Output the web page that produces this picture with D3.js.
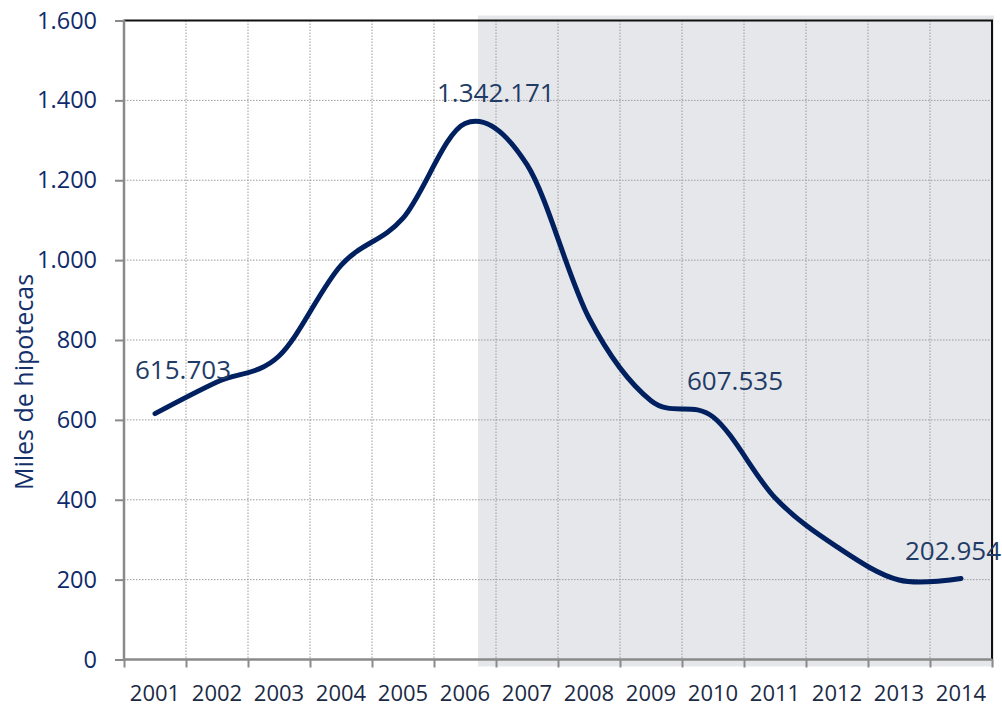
<!DOCTYPE html>
<html>
<head>
<meta charset="utf-8">
<script src="https://cdn.jsdelivr.net/npm/d3@7"></script>
<style>
  body { margin: 0; background: #fff; }
  svg text { font-family: "Open Sans", "Noto Sans", sans-serif; }
  .grid line { stroke: #9a9a9a; stroke-width: 1; stroke-dasharray: 1.5 1.5; }
  .yAxis .domain, .xTicks .domain { display: none; }
  .yAxis .tick line, .xTicks .tick line { stroke: #8a8a8a; stroke-width: 2; }
  .yAxis text { fill: #0f2a6b; font-size: 23.5px; }
  .xAxis text { fill: #1b2a45; font-size: 22px; }
  .dLabel { fill: #1f3b66; font-size: 26px; }
</style>
</head>
<body>
<svg id="chart" width="1002" height="705"></svg>
<script>
// datos (miles de hipotecas)
var years = [2001, 2002, 2003, 2004, 2005, 2006, 2007, 2008, 2009, 2010, 2011, 2012, 2013, 2014];
var hipotecas = [615.703, 695, 760, 987, 1105, 1342.171, 1239, 855, 648, 607.535, 405, 282, 199, 202.954];
var yTicks = [0, 200, 400, 600, 800, 1000, 1200, 1400, 1600];
var labelYears = [2001, 2006, 2010, 2014];
var shadeFrom = 2006.21; // inicio de la zona sombreada (en años)

(function () {
  'use strict'
  // desplazamiento de las etiquetas respecto al punto
  var labelOffset = { 2001: [-20, -35], 2006: [-28, -21], 2010: [-26, -27], 2014: [-56, -18] };

  var es = d3.formatLocale({ decimal: ",", thousands: ".", grouping: [3], currency: ["", ""] });
  var fmt = es.format(",");

  var pLeft = 124, pRight = 992, pTop = 20.5, pBottom = 659.5;
  var svg = d3.select("#chart");

  var x = d3.scaleBand().domain(years).range([pLeft, pRight]).padding(0);
  var xLin = d3.scaleLinear().domain([years[0] - 0.5, years[years.length - 1] + 0.5]).range([pLeft, pRight]);
  var y = d3.scaleLinear().domain([0, 1600]).range([pBottom, pTop]);

  // zona sombreada
  svg.append("rect")
    .attr("x", xLin(shadeFrom))
    .attr("y", y(1600) - 5)
    .attr("width", xLin(years[years.length - 1] + 0.5) - xLin(shadeFrom) + 2)
    .attr("height", y(0) - y(1600) + 12)
    .attr("fill", "#e6e7eb");

  // rejilla
  var bounds = d3.range(years.length + 1).map(function (i) { return years[0] - 0.5 + i; });
  var g = svg.append("g").attr("class", "grid");
  g.selectAll(".v").data(bounds.slice(1, -1)).enter().append("line")
    .attr("x1", function (d) { return xLin(d); }).attr("x2", function (d) { return xLin(d); })
    .attr("y1", pTop).attr("y2", pBottom);
  g.selectAll(".h").data(yTicks.slice(1, -1)).enter().append("line")
    .attr("x1", pLeft).attr("x2", pRight)
    .attr("y1", function (d) { return y(d); }).attr("y2", function (d) { return y(d); });

  // bordes superior y derecho
  svg.append("path")
    .attr("d", "M" + pLeft + "," + pTop + "H" + pRight + "V" + pBottom)
    .attr("fill", "none").attr("stroke", "#111").attr("stroke-width", 2);

  // eje Y
  svg.append("g")
    .attr("class", "yAxis")
    .attr("transform", "translate(" + pLeft + ",0)")
    .call(d3.axisLeft(y).tickValues(yTicks).tickSize(9).tickPadding(18).tickFormat(fmt));

  // marcas del eje X
  svg.append("g")
    .attr("class", "xTicks")
    .attr("transform", "translate(0," + pBottom + ")")
    .call(d3.axisBottom(xLin).tickValues(bounds).tickSize(8).tickFormat(""));

  // etiquetas de años
  var xa = svg.append("g")
    .attr("class", "xAxis")
    .attr("transform", "translate(0," + pBottom + ")")
    .call(d3.axisBottom(x).tickSize(0));
  xa.select(".domain").remove();
  xa.selectAll("text").attr("y", 41).attr("dy", null);

  // ejes izquierdo e inferior
  svg.append("line").attr("x1", pLeft).attr("x2", pLeft).attr("y1", pTop - 1).attr("y2", pBottom + 1)
    .attr("stroke", "#8a8a8a").attr("stroke-width", 2.5);
  svg.append("line").attr("x1", pLeft).attr("x2", pRight).attr("y1", pBottom).attr("y2", pBottom)
    .attr("stroke", "#8a8a8a").attr("stroke-width", 2.5);

  // título del eje Y
  svg.append("text")
    .attr("transform", "translate(33,382) rotate(-90)")
    .attr("text-anchor", "middle")
    .attr("fill", "#13306b")
    .attr("font-size", "25px")
    .text("Miles de hipotecas");

  // línea suavizada
  var data = years.map(function (yr, i) { return { year: yr, v: hipotecas[i] }; });
  var line = d3.line()
    .x(function (d) { return x(d.year) + x.bandwidth() / 2; })
    .y(function (d) { return y(d.v); })
    .curve(d3.curveCatmullRom.alpha(0));
  svg.append("path")
    .datum(data)
    .attr("d", line)
    .attr("fill", "none")
    .attr("stroke", "#002060")
    .attr("stroke-width", 5)
    .attr("stroke-linecap", "round")
    .attr("stroke-linejoin", "round");

  // etiquetas de datos
  svg.selectAll(".dLabel")
    .data(data.filter(function (d) { return labelYears.indexOf(d.year) >= 0; }))
    .enter().append("text")
    .attr("class", "dLabel")
    .attr("x", function (d) { return x(d.year) + x.bandwidth() / 2 + labelOffset[d.year][0]; })
    .attr("y", function (d) { return y(d.v) + labelOffset[d.year][1]; })
    .text(function (d) { return fmt(Math.round(d.v * 1000)); });
})()
</script>
</body>
</html>
